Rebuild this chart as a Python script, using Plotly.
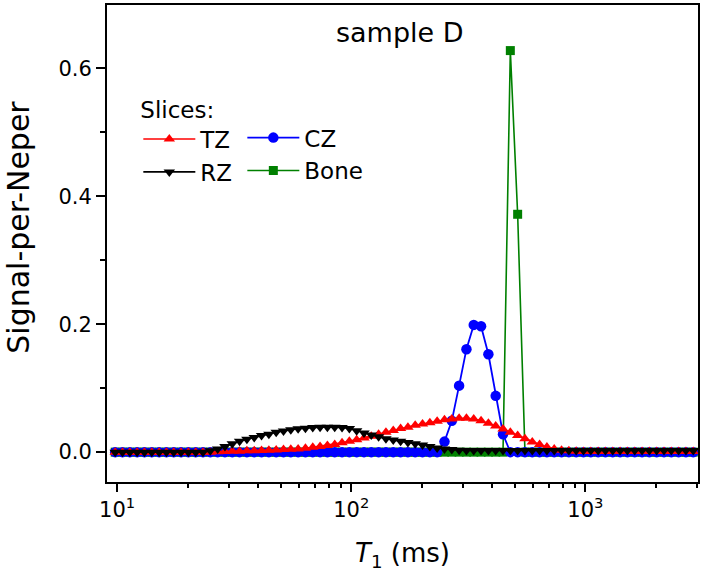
import plotly.graph_objects as go

# T1 grid (ms) (log-spaced, ~32 points per decade)
T1_ms = [9.818, 10.55, 11.34, 12.18, 13.09, 14.07, 15.12, 16.25, 17.46, 18.76,
         20.16, 21.67, 23.28, 25.02, 26.89, 28.89, 31.05, 33.36, 35.85, 38.53,
         41.40, 44.49, 47.81, 51.38, 55.21, 59.33, 63.75, 68.51, 73.62, 79.11,
         85.02, 91.37, 98.18, 105.5, 113.4, 121.8, 130.9, 140.7, 151.2, 162.5,
         174.6, 187.6, 201.6, 216.7, 232.8, 250.2, 268.9, 288.9, 310.5, 333.6,
         358.5, 385.3, 414.0, 444.9, 478.1, 513.8, 552.1, 593.3, 637.5, 685.1,
         736.2, 791.1, 850.2, 913.7, 981.8, 1055, 1134, 1218, 1309, 1407,
         1512, 1625, 1746, 1876, 2016, 2167, 2328, 2502, 2689, 2889]

TZ = [0.0] * 14 + [
    0.0005, 0.001, 0.0012, 0.0015, 0.002, 0.0022, 0.0025, 0.003, 0.0035, 0.004,
    0.0045, 0.005, 0.006, 0.0075, 0.009, 0.0105, 0.012, 0.0145, 0.017, 0.0195,
    0.022, 0.025, 0.028, 0.031, 0.034, 0.037, 0.039, 0.042, 0.044, 0.046,
    0.0485, 0.0505, 0.052, 0.053, 0.053, 0.052, 0.049, 0.045, 0.041, 0.036,
    0.031, 0.026, 0.021, 0.016, 0.012, 0.008, 0.005, 0.003, 0.002, 0.0015] + [0.001] * 16

RZ = [0.0] * 13 + [
    0.002, 0.005, 0.009, 0.013, 0.017, 0.020, 0.023, 0.026, 0.028, 0.031,
    0.033, 0.035, 0.0365, 0.0375, 0.0385, 0.039, 0.039, 0.039, 0.0385, 0.037,
    0.0335, 0.030, 0.027, 0.024, 0.021, 0.019, 0.017, 0.015, 0.013, 0.011,
    0.009, 0.0065, 0.005, 0.004, 0.003] + [0.0025] * 32

CZ = [0.0] * 45 + [0.0165, 0.049, 0.104, 0.161, 0.199, 0.197, 0.153, 0.088, 0.028] + [0.0] * 26

BONE = [0.0] * 54 + [0.628, 0.372] + [0.0] * 24

X_TICKS = [10, 100, 1000]
X_TICK_TEXT = ["10<sup>1</sup>", "10<sup>2</sup>", "10<sup>3</sup>"]
X_MINOR = [20, 30, 40, 50, 60, 70, 80, 90, 200, 300, 400, 500, 600, 700, 800, 900, 2000, 3000]
Y_TICKS = [0.0, 0.2, 0.4, 0.6]
Y_TICK_TEXT = ["0.0", "0.2", "0.4", "0.6"]
Y_MINOR = [0.1, 0.3, 0.5]

FONT = "DejaVu Sans"
RED, BLUE, BLACK, GREEN = "#ff0000", "#0000ff", "#000000", "#008000"

fig = go.Figure()
fig.add_trace(go.Scatter(x=T1_ms, y=BONE, name="Bone", mode="lines+markers",
                         line=dict(color=GREEN, width=1.6),
                         marker=dict(symbol="square", size=9, color=GREEN),
                         legend="legend2", legendrank=2))
fig.add_trace(go.Scatter(x=T1_ms, y=CZ, name="CZ", mode="lines+markers",
                         line=dict(color=BLUE, width=1.8),
                         marker=dict(symbol="circle", size=10.5, color=BLUE),
                         legend="legend2", legendrank=1))
fig.add_trace(go.Scatter(x=T1_ms, y=TZ, name="TZ", mode="lines+markers",
                         line=dict(color=RED, width=1.6),
                         marker=dict(symbol="triangle-up", size=10, color=RED),
                         legend="legend", legendrank=1))
fig.add_trace(go.Scatter(x=T1_ms, y=RZ, name="RZ", mode="lines+markers",
                         line=dict(color=BLACK, width=1.6),
                         marker=dict(symbol="triangle-down", size=10, color=BLACK),
                         legend="legend", legendrank=2))

fig.add_annotation(text="sample D", x=0.496, y=0.943, xref="paper", yref="paper",
                   xanchor="center", yanchor="middle", showarrow=False,
                   font=dict(family=FONT, size=27, color="black"))
fig.add_annotation(text="Signal-per-Neper", x=-0.149, y=0.535, xref="paper", yref="paper",
                   xanchor="center", yanchor="middle", textangle=-90, showarrow=False,
                   font=dict(family=FONT, size=30, color="black"))

axis_common = dict(showgrid=False, zeroline=False, linecolor="black", linewidth=2,
                   mirror=True, ticks="outside", tickcolor="black", tickwidth=1.5)

fig.update_layout(
    width=709, height=586,
    margin=dict(l=107, r=11, t=3, b=104),
    paper_bgcolor="white", plot_bgcolor="white",
    font=dict(family=FONT, size=21, color="black"),
    showlegend=True,
    legend=dict(title=dict(text="Slices:", font=dict(size=23)), font=dict(size=23),
                x=0.053, y=0.8267, xanchor="left", yanchor="top",
                bgcolor="rgba(0,0,0,0)", borderwidth=0, itemwidth=52,
                tracegroupgap=0),
    legend2=dict(font=dict(size=23), x=0.229, y=0.767, xanchor="left", yanchor="top",
                 bgcolor="rgba(0,0,0,0)", borderwidth=0, itemwidth=52,
                 tracegroupgap=0),
    xaxis=dict(type="log", range=[0.957, 3.481],
               tickvals=X_TICKS, ticktext=X_TICK_TEXT, ticklen=8,
               minor=dict(tickvals=X_MINOR, ticks="outside", ticklen=4,
                          tickcolor="black", tickwidth=1.5),
               title=dict(text="<i>T</i><sub>1</sub> (ms)", font=dict(size=26), standoff=23),
               **axis_common),
    yaxis=dict(range=[-0.0467, 0.6993],
               tickvals=Y_TICKS, ticktext=Y_TICK_TEXT, ticklen=9,
               minor=dict(tickvals=Y_MINOR, ticks="outside", ticklen=5,
                          tickcolor="black", tickwidth=1.5),
               **axis_common),
)

fig.write_html("out.html", config={"displayModeBar": False},
               post_script="document.body.style.margin='0px';")
